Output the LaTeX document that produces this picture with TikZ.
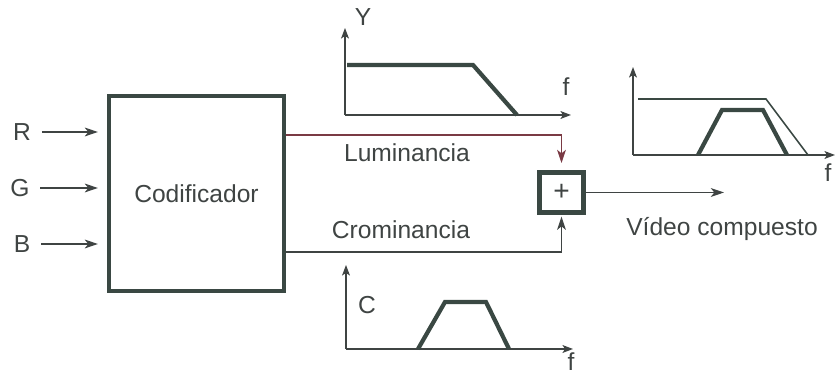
\documentclass[tikz,border=0pt]{standalone}
\usepackage{fontspec}
\setsansfont{Liberation Sans}
\usetikzlibrary{arrows.meta}

\definecolor{inkdark}{HTML}{3A4843}
\definecolor{inkgray}{HTML}{3F4443}
\definecolor{lumared}{HTML}{7A3A44}

\begin{document}
\begin{tikzpicture}[
  x=0.02cm, y=-0.02cm,
  font=\sffamily\fontsize{14}{16}\selectfont,
  text=inkgray,
  block/.style={
    draw=inkdark, line width=2.6pt, fill=white,
    minimum width=3.5cm, minimum height=3.9cm
  },
  summer/.style={
    draw=inkdark, line width=2.8pt, fill=white,
    minimum width=0.88cm, minimum height=0.8cm
  },
  arrow/.style={-{Stealth[length=7.5pt, width=5pt, inset=2pt]}, draw=inkgray, line width=0.7pt},
  axis/.style={-{Stealth[length=6pt, width=4.5pt, inset=1.5pt]}, draw=inkgray, line width=0.8pt},
  band/.style={draw=inkdark, line width=2.4pt},
  thinband/.style={draw=inkdark, line width=0.9pt},
  label/.style={inner sep=1pt},
]
\useasboundingbox (0,0) rectangle (836,374);

% Encoder with the three colour inputs
\node[block] (coder) at (196.5,193.5) {Codificador};
\node[label] (inR) at (22,132) {R};
\node[label] (inG) at (20,188) {G};
\node[label] (inB) at (22,244) {B};
\draw[arrow, shorten <=5pt, shorten >=5pt] (inR) -- (inR -| coder.west);
\draw[arrow, shorten <=5pt, shorten >=5pt] (inG) -- (inG -| coder.west);
\draw[arrow, shorten <=5pt, shorten >=5pt] (inB) -- (inB -| coder.west);

% Adder and the two signal paths into it
\node[summer, font=\sffamily\fontsize{16}{18}\selectfont] (sum) at (561.5,192.5) {+};
\coordinate (lumbend) at (561.5,135);
\coordinate (crombend) at (561.5,252);
\draw[arrow, draw=lumared, shorten >=4pt] (coder.east |- lumbend) -- (lumbend) -- (sum.north);
\draw[arrow, shorten >=1pt] (coder.east |- crombend) -- (crombend) -- (sum.south);
\node[label] (lum) at (407,153) {Luminancia};
\node[label] (crom) at (401,230) {Crominancia};

% Output
\coordinate (vout) at (724,192.5);
\draw[arrow] (sum.east) -- (vout);
\node[label] (video) at (722,229) {Vídeo compuesto};

% Spectrum of Y (top)
\draw[axis] (345,115) -- (345,28);
\draw[axis] (345,115) -- (571,115);
\draw[band] (347,65) -- (473,65) -- (517,115);
\node[label] (ylab) at (363,17) {Y};
\node[label] (yf) at (566,87) {f};

% Spectrum of C (bottom)
\draw[axis] (346,349) -- (346,265);
\draw[axis] (346,349) -- (573,349);
\draw[band] (418,349) -- (445,302) -- (486,302) -- (509,349);
\node[label] (clab) at (367,305) {C};
\node[label] (cf) at (571,362) {f};

% Spectrum of the composite signal (right)
\draw[axis] (633,155) -- (633,67);
\draw[axis] (633,155) -- (835,155);
\draw[thinband] (638,99) -- (766,99) -- (808,155);
\draw[band] (698,155) -- (722,110) -- (763,110) -- (787,155);
\node[label] (vf) at (828,173) {f};

\end{tikzpicture}
\end{document}
